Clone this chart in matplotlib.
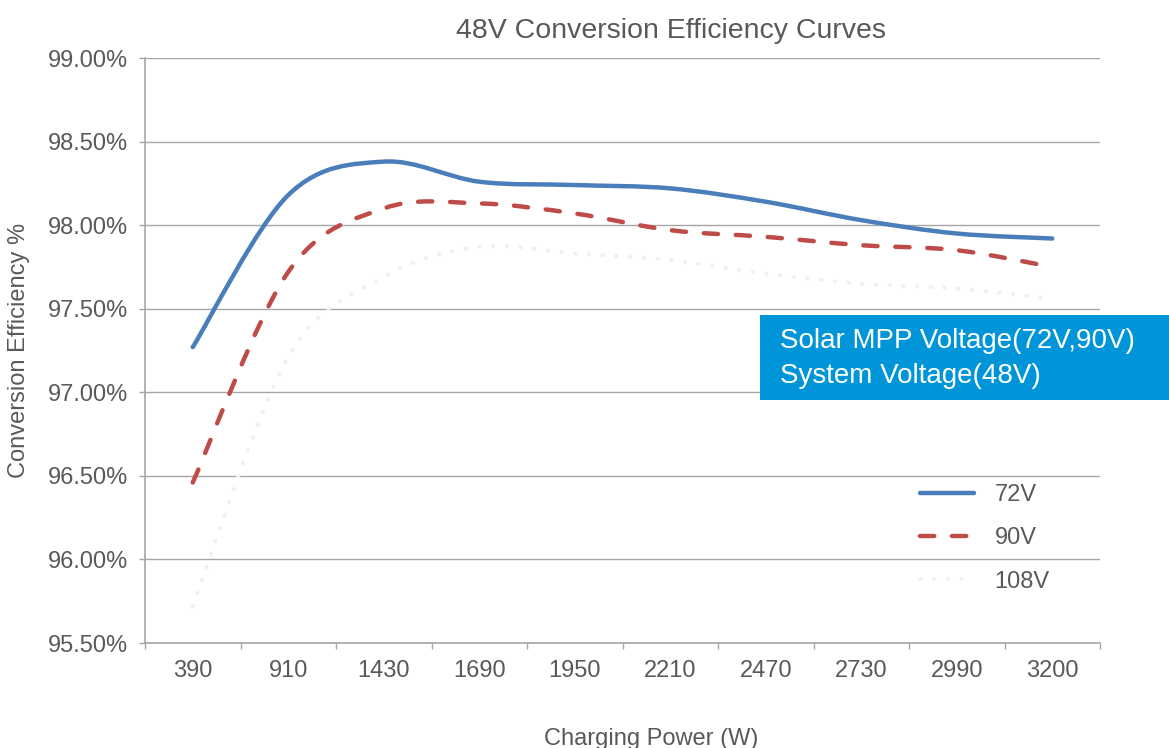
import matplotlib
matplotlib.use("Agg")
import matplotlib.pyplot as plt
from matplotlib.path import Path
from matplotlib.patches import PathPatch, Rectangle
from matplotlib.lines import Line2D
import numpy as np

plt.rcParams['font.family'] = ['Liberation Sans', 'DejaVu Sans']

# charging power categories (W)
power = ['390', '910', '1430', '1690', '1950', '2210', '2470', '2730', '2990', '3200']

# conversion efficiency (%) for each solar voltage
eff_72v = [97.27, 98.18, 98.38, 98.26, 98.24, 98.22, 98.14, 98.03, 97.95, 97.92]
eff_90v = [96.46, 97.72, 98.10, 98.13, 98.07, 97.97, 97.93, 97.88, 97.85, 97.75]
eff_108v = [95.72, 97.21, 97.69, 97.87, 97.83, 97.79, 97.71, 97.65, 97.62, 97.56]

text_col = '#595959'
grid_col = '#a6a6a6'
W, H = 1169, 748


def smooth_path(xs, ys):
    # excel style smoothed line: cubic bezier segments through every point
    pts = np.column_stack([xs, ys]).astype(float)
    verts = [pts[0]]
    codes = [Path.MOVETO]
    n = len(pts)
    for i in range(n - 1):
        p0 = pts[max(i - 1, 0)]
        p1 = pts[i]
        p2 = pts[i + 1]
        p3 = pts[min(i + 2, n - 1)]
        c1 = p1 + (p2 - p0) / 6.0
        c2 = p2 - (p3 - p1) / 6.0
        verts += [c1, c2, p2]
        codes += [Path.CURVE4] * 3
    return Path(verts, codes)


fig = plt.figure(figsize=(W / 100, H / 100), dpi=100)
ax = fig.add_axes([145 / W, 1 - 643 / H, (1100 - 145) / W, (643 - 58) / H])

x = np.arange(len(power))
series = [
    (eff_72v, '72V', dict(color='#4a7ebb', lw=3.2, ls='-')),
    (eff_90v, '90V', dict(color='#be4b48', lw=3.2, ls=(0, (3.2, 4.0)))),
    (eff_108v, '108V', dict(color='#f0f0f0', lw=3.0, ls=(0, (0.1, 3.2)))),
]
handles = []
for vals, name, st in series:
    patch = PathPatch(smooth_path(x, vals), fill=False, edgecolor=st['color'],
                      lw=st['lw'], linestyle=st['ls'], capstyle='round', zorder=3)
    ax.add_patch(patch)
    handles.append(Line2D([], [], color=st['color'], lw=st['lw'], ls=st['ls'],
                          solid_capstyle='round', dash_capstyle='round', label=name))

ax.set_xlim(-0.5, len(power) - 0.5)
ax.set_ylim(95.5, 99.0)
yt = np.arange(95.5, 99.01, 0.5)
ax.set_yticks(yt)
ax.set_yticklabels(['%.2f%%' % v for v in yt])
ax.set_xticks(x)
ax.set_xticklabels(power)
ax.set_xticks(np.arange(-0.5, len(power), 1.0), minor=True)
ax.tick_params(axis='x', which='major', length=0, pad=12, labelsize=17, labelcolor=text_col)
ax.tick_params(axis='x', which='minor', length=4.5, color=grid_col, width=1)
ax.tick_params(axis='y', length=4, color=grid_col, width=1, pad=8, labelsize=17, labelcolor=text_col)

ax.grid(axis='y', color=grid_col, lw=1)
ax.set_axisbelow(True)
for s in ['top', 'right']:
    ax.spines[s].set_visible(False)
for s in ['left', 'bottom']:
    ax.spines[s].set_color(grid_col)
    ax.spines[s].set_linewidth(1.2)

fig.text(671 / W, 1 - 31 / H, '48V Conversion Efficiency Curves', fontsize=20.5,
         color=text_col, ha='center', va='center')
fig.text(651 / W, 1 - 739 / H, 'Charging Power (W)', fontsize=17,
         color=text_col, ha='center', va='center')
fig.text(19 / W, 1 - 350 / H, 'Conversion Efficiency %', fontsize=17, rotation=90,
         color=text_col, ha='center', va='center')

leg = ax.legend(handles=handles, loc='upper left', bbox_to_anchor=(920 / W, 1 - 484 / H),
                bbox_transform=fig.transFigure, frameon=False, fontsize=17,
                borderpad=0, borderaxespad=0,
                handlelength=2.3, handletextpad=0.85, labelspacing=0.9)
for t in leg.get_texts():
    t.set_color(text_col)

# info box
fig.patches.append(Rectangle((760 / W, 1 - 400 / H), (W - 760) / W, 85 / H,
                             transform=fig.transFigure, facecolor='#0095d9', edgecolor='none',
                             zorder=5))
fig.text(780 / W, 1 - 358.5 / H, 'Solar MPP Voltage(72V,90V)\nSystem Voltage(48V)',
         color='white', fontsize=20, va='center', ha='left', linespacing=1.45, zorder=6)

fig.savefig('out.png', dpi=100)
